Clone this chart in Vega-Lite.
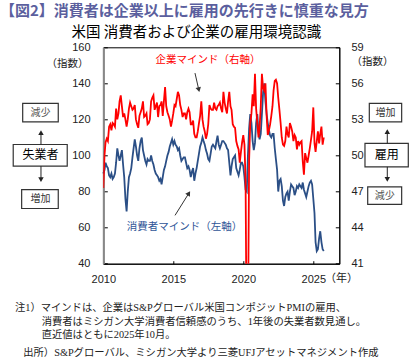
{
"$schema": "https://vega.github.io/schema/vega-lite/v6.json",
"width": 236, "height": 216.4,
"autosize": {"type": "none"},
"padding": {"left": 103.3, "top": 47.3, "right": 77.7, "bottom": 96.3},
"background": "white",
"config": {
  "view": {"stroke": "#000", "strokeWidth": 1},
  "axis": {"labelFont": "Liberation Sans", "labelFontSize": 11, "labelColor": "#222", "grid": false, "tickColor": "#000", "domainColor": "#000", "title": null, "labelOverlap": false},
  "text": {"font": "Noto Sans CJK JP"}
},
"layer": [
  {"data": {"values": [
{"date":"2010-01-01","consumer":90},{"date":"2010-02-01","consumer":92},{"date":"2010-03-01","consumer":96},{"date":"2010-04-01","consumer":94},{"date":"2010-05-01","consumer":93},{"date":"2010-06-01","consumer":89},{"date":"2010-07-01","consumer":88},{"date":"2010-08-01","consumer":90},{"date":"2010-09-01","consumer":87},{"date":"2010-10-01","consumer":88},{"date":"2010-11-01","consumer":90},{"date":"2010-12-01","consumer":96},
{"date":"2011-01-01","consumer":104},{"date":"2011-02-01","consumer":100},{"date":"2011-03-01","consumer":97},{"date":"2011-04-01","consumer":100},{"date":"2011-05-01","consumer":103},{"date":"2011-06-01","consumer":95},{"date":"2011-07-01","consumer":88},{"date":"2011-08-01","consumer":76},{"date":"2011-09-01","consumer":69},{"date":"2011-10-01","consumer":80},{"date":"2011-11-01","consumer":88},{"date":"2011-12-01","consumer":90},
{"date":"2012-01-01","consumer":93},{"date":"2012-02-01","consumer":99},{"date":"2012-03-01","consumer":104},{"date":"2012-04-01","consumer":109},{"date":"2012-05-01","consumer":105},{"date":"2012-06-01","consumer":100},{"date":"2012-07-01","consumer":97},{"date":"2012-08-01","consumer":104},{"date":"2012-09-01","consumer":108},{"date":"2012-10-01","consumer":110},{"date":"2012-11-01","consumer":103},{"date":"2012-12-01","consumer":100},
{"date":"2013-01-01","consumer":97},{"date":"2013-02-01","consumer":95},{"date":"2013-03-01","consumer":98},{"date":"2013-04-01","consumer":97},{"date":"2013-05-01","consumer":97},{"date":"2013-06-01","consumer":100},{"date":"2013-07-01","consumer":97},{"date":"2013-08-01","consumer":95},{"date":"2013-09-01","consumer":92},{"date":"2013-10-01","consumer":90},{"date":"2013-11-01","consumer":89},{"date":"2013-12-01","consumer":88},
{"date":"2014-01-01","consumer":86},{"date":"2014-02-01","consumer":87},{"date":"2014-03-01","consumer":84},{"date":"2014-04-01","consumer":88},{"date":"2014-05-01","consumer":92},{"date":"2014-06-01","consumer":94},{"date":"2014-07-01","consumer":97},{"date":"2014-08-01","consumer":100},{"date":"2014-09-01","consumer":102},{"date":"2014-10-01","consumer":105},{"date":"2014-11-01","consumer":107},{"date":"2014-12-01","consumer":109},
{"date":"2015-01-01","consumer":106},{"date":"2015-02-01","consumer":108},{"date":"2015-03-01","consumer":106},{"date":"2015-04-01","consumer":105},{"date":"2015-05-01","consumer":103},{"date":"2015-06-01","consumer":104},{"date":"2015-07-01","consumer":100},{"date":"2015-08-01","consumer":97},{"date":"2015-09-01","consumer":98},{"date":"2015-10-01","consumer":99},{"date":"2015-11-01","consumer":99},{"date":"2015-12-01","consumer":96},
{"date":"2016-01-01","consumer":93},{"date":"2016-02-01","consumer":94},{"date":"2016-03-01","consumer":92},{"date":"2016-04-01","consumer":88},{"date":"2016-05-01","consumer":91},{"date":"2016-06-01","consumer":93},{"date":"2016-07-01","consumer":86},{"date":"2016-08-01","consumer":90},{"date":"2016-09-01","consumer":93},{"date":"2016-10-01","consumer":97},{"date":"2016-11-01","consumer":101},{"date":"2016-12-01","consumer":105},
{"date":"2017-01-01","consumer":107},{"date":"2017-02-01","consumer":110},{"date":"2017-03-01","consumer":108},{"date":"2017-04-01","consumer":106},{"date":"2017-05-01","consumer":103},{"date":"2017-06-01","consumer":101},{"date":"2017-07-01","consumer":98},{"date":"2017-08-01","consumer":97},{"date":"2017-09-01","consumer":101},{"date":"2017-10-01","consumer":105},{"date":"2017-11-01","consumer":106},{"date":"2017-12-01","consumer":105},
{"date":"2018-01-01","consumer":104},{"date":"2018-02-01","consumer":108},{"date":"2018-03-01","consumer":111},{"date":"2018-04-01","consumer":106},{"date":"2018-05-01","consumer":104},{"date":"2018-06-01","consumer":106},{"date":"2018-07-01","consumer":108},{"date":"2018-08-01","consumer":108},{"date":"2018-09-01","consumer":107},{"date":"2018-10-01","consumer":106},{"date":"2018-11-01","consumer":104},{"date":"2018-12-01","consumer":103},
{"date":"2019-01-01","consumer":96},{"date":"2019-02-01","consumer":89},{"date":"2019-03-01","consumer":94},{"date":"2019-04-01","consumer":98},{"date":"2019-05-01","consumer":99},{"date":"2019-06-01","consumer":100},{"date":"2019-07-01","consumer":93},{"date":"2019-08-01","consumer":91},{"date":"2019-09-01","consumer":89},{"date":"2019-10-01","consumer":92},{"date":"2019-11-01","consumer":96},{"date":"2019-12-01","consumer":96},
{"date":"2020-01-01","consumer":94},{"date":"2020-02-01","consumer":88},{"date":"2020-03-01","consumer":81},{"date":"2020-04-01","consumer":80},{"date":"2020-05-01","consumer":100},{"date":"2020-06-01","consumer":115},{"date":"2020-07-01","consumer":123},{"date":"2020-08-01","consumer":118},{"date":"2020-09-01","consumer":108},{"date":"2020-10-01","consumer":103},{"date":"2020-11-01","consumer":107},{"date":"2020-12-01","consumer":118},
{"date":"2021-01-01","consumer":123},{"date":"2021-02-01","consumer":113},{"date":"2021-03-01","consumer":109},{"date":"2021-04-01","consumer":112},{"date":"2021-05-01","consumer":123},{"date":"2021-06-01","consumer":135},{"date":"2021-07-01","consumer":140},{"date":"2021-08-01","consumer":130},{"date":"2021-09-01","consumer":123},{"date":"2021-10-01","consumer":118},{"date":"2021-11-01","consumer":114},{"date":"2021-12-01","consumer":111},
{"date":"2022-01-01","consumer":110},{"date":"2022-02-01","consumer":112},{"date":"2022-03-01","consumer":112},{"date":"2022-04-01","consumer":104},{"date":"2022-05-01","consumer":98},{"date":"2022-06-01","consumer":92},{"date":"2022-07-01","consumer":80},{"date":"2022-08-01","consumer":86},{"date":"2022-09-01","consumer":87},{"date":"2022-10-01","consumer":83},{"date":"2022-11-01","consumer":75},{"date":"2022-12-01","consumer":72},
{"date":"2023-01-01","consumer":77},{"date":"2023-02-01","consumer":79},{"date":"2023-03-01","consumer":80},{"date":"2023-04-01","consumer":75},{"date":"2023-05-01","consumer":80},{"date":"2023-06-01","consumer":84},{"date":"2023-07-01","consumer":83},{"date":"2023-08-01","consumer":82},{"date":"2023-09-01","consumer":78},{"date":"2023-10-01","consumer":80},{"date":"2023-11-01","consumer":83},{"date":"2023-12-01","consumer":82},
{"date":"2024-01-01","consumer":84},{"date":"2024-02-01","consumer":83},{"date":"2024-03-01","consumer":82},{"date":"2024-04-01","consumer":85},{"date":"2024-05-01","consumer":81},{"date":"2024-06-01","consumer":79},{"date":"2024-07-01","consumer":77},{"date":"2024-08-01","consumer":80},{"date":"2024-09-01","consumer":83},{"date":"2024-10-01","consumer":85},{"date":"2024-11-01","consumer":86},{"date":"2024-12-01","consumer":84},
{"date":"2025-01-01","consumer":76},{"date":"2025-02-01","consumer":68},{"date":"2025-03-01","consumer":52},{"date":"2025-04-01","consumer":47},{"date":"2025-05-01","consumer":48},{"date":"2025-06-01","consumer":54},{"date":"2025-07-01","consumer":58},{"date":"2025-08-01","consumer":52},{"date":"2025-09-01","consumer":48},{"date":"2025-10-01","consumer":47}
  ]},
   "mark": {"type": "line", "color": "#2B4F86", "strokeWidth": 1.8},
   "encoding": {
     "x": {"field": "date", "type": "temporal",
       "scale": {"type": "utc", "domain": [{"year": 2010, "month": 1, "date": 1, "utc": true}, {"year": 2026, "month": 11, "date": 10, "utc": true}]},
       "axis": {"values": [{"year": 2010, "month": 1, "date": 1, "utc": true}, {"year": 2015, "month": 1, "date": 1, "utc": true}, {"year": 2020, "month": 1, "date": 1, "utc": true}, {"year": 2025, "month": 1, "date": 1, "utc": true}], "format": "%Y", "tickSize": -3, "labelPadding": 12.5, "labelFlush": false, "labelOverlap": false, "title": null}},
     "y": {"field": "consumer", "type": "quantitative",
       "scale": {"domain": [40, 160], "nice": false, "zero": false},
       "axis": {"orient": "left", "values": [40, 60, 80, 100, 120, 140, 160], "tickSize": -4, "labelPadding": 17.3, "labelOverlap": false, "domainColor": "#888", "domainWidth": 2, "title": null}}
   }},
 {"layer": [
  {"data": {"values": [{}]}, "mark": {"type": "text", "text": "【図2】消費者は企業以上に雇用の先行きに慎重な見方", "align": "left", "baseline": "middle", "fontSize": 15, "fontWeight": "bold", "color": "#5B5F9E", "clip": false},
   "encoding": {"x": {"datum": {"year": 2002, "month": 8, "date": 15, "utc": true}}, "y": {"datum": 179.9, "scale": {"domain": [40, 160], "nice": false, "zero": false}, "axis": null}}},
  {"data": {"values": [{}]}, "mark": {"type": "text", "text": "米国 消費者および企業の雇用環境認識", "align": "center", "baseline": "middle", "fontSize": 14.5, "color": "#000", "clip": false},
   "encoding": {"x": {"datum": {"year": 2016, "month": 8, "date": 28, "utc": true}}, "y": {"datum": 167.7, "axis": null}}},
  {"data": {"values": [{}]}, "mark": {"type": "text", "text": "（指数）", "align": "center", "baseline": "middle", "fontSize": 10.5, "color": "#222", "clip": false},
   "encoding": {"x": {"datum": {"year": 2007, "month": 6, "date": 11, "utc": true}}, "y": {"datum": 150.6, "axis": null}}},
  {"data": {"values": [{}]}, "mark": {"type": "text", "text": "（指数）", "align": "center", "baseline": "middle", "fontSize": 10.5, "color": "#222", "clip": false},
   "encoding": {"x": {"datum": {"year": 2029, "month": 3, "date": 25, "utc": true}}, "y": {"datum": 151.6, "axis": null}}},
  {"data": {"values": [{}]}, "mark": {"type": "text", "text": "（年）", "align": "center", "baseline": "middle", "fontSize": 11, "color": "#222", "clip": false},
   "encoding": {"x": {"datum": {"year": 2027, "month": 1, "date": 8, "utc": true}}, "y": {"datum": 31.5, "axis": null}}},
  {"data": {"values": [{}]}, "mark": {"type": "text", "text": "企業マインド（右軸）", "align": "center", "baseline": "middle", "fontSize": 10.5, "color": "#FF0000", "clip": false},
   "encoding": {"x": {"datum": {"year": 2017, "month": 6, "date": 24, "utc": true}}, "y": {"datum": 153.2, "axis": null}}},
  {"data": {"values": [{}]}, "mark": {"type": "text", "text": "消費者マインド（左軸）", "align": "center", "baseline": "middle", "fontSize": 10.5, "color": "#2F5597", "clip": false},
   "encoding": {"x": {"datum": {"year": 2015, "month": 10, "date": 19, "utc": true}}, "y": {"datum": 60.4, "axis": null}}},
  {"data": {"values": [{}]}, "mark": {"type": "rule", "color": "#333", "strokeWidth": 1, "clip": false},
   "encoding": {"x": {"datum": {"year": 2016, "month": 7, "date": 20, "utc": true}}, "x2": {"datum": {"year": 2016, "month": 10, "date": 27, "utc": true}}, "y": {"datum": 145.7, "axis": null}, "y2": {"datum": 136.5}}},
  {"data": {"values": [{}]}, "mark": {"type": "point", "shape": "triangle-down", "filled": true, "size": 30, "angle": -13, "color": "#333", "opacity": 1, "clip": false},
   "encoding": {"x": {"datum": {"year": 2016, "month": 10, "date": 27, "utc": true}}, "y": {"datum": 136.5, "axis": null}}},
  {"data": {"values": [{}]}, "mark": {"type": "rule", "color": "#333", "strokeWidth": 1, "clip": false},
   "encoding": {"x": {"datum": {"year": 2015, "month": 2, "date": 15, "utc": true}}, "x2": {"datum": {"year": 2016, "month": 2, "date": 11, "utc": true}}, "y": {"datum": 66.8, "axis": null}, "y2": {"datum": 79.05}}},
  {"data": {"values": [{}]}, "mark": {"type": "point", "shape": "triangle-up", "filled": true, "size": 30, "angle": 32, "color": "#333", "opacity": 1, "clip": false},
   "encoding": {"x": {"datum": {"year": 2016, "month": 2, "date": 11, "utc": true}}, "y": {"datum": 79.05, "axis": null}}},
  {"data": {"values": [{}]}, "mark": {"type": "rect", "fill": "white", "stroke": "#333", "strokeWidth": 1.2, "clip": false},
   "encoding": {"x": {"datum": {"year": 2004, "month": 3, "date": 30, "utc": true}}, "x2": {"datum": {"year": 2006, "month": 10, "date": 14, "utc": true}}, "y": {"datum": 128.9, "axis": null}, "y2": {"datum": 118.7}}},
  {"data": {"values": [{}]}, "mark": {"type": "rect", "fill": "white", "stroke": "#333", "strokeWidth": 1.2, "clip": false},
   "encoding": {"x": {"datum": {"year": 2003, "month": 7, "date": 27, "utc": true}}, "x2": {"datum": {"year": 2007, "month": 6, "date": 5, "utc": true}}, "y": {"datum": 106.1, "axis": null}, "y2": {"datum": 94.1}}},
  {"data": {"values": [{}]}, "mark": {"type": "rect", "fill": "white", "stroke": "#333", "strokeWidth": 1.2, "clip": false},
   "encoding": {"x": {"datum": {"year": 2004, "month": 3, "date": 3, "utc": true}}, "x2": {"datum": {"year": 2006, "month": 10, "date": 14, "utc": true}}, "y": {"datum": 81.1, "axis": null}, "y2": {"datum": 70.6}}},
  {"data": {"values": [{}]}, "mark": {"type": "rect", "fill": "white", "stroke": "#333", "strokeWidth": 1.2, "clip": false},
   "encoding": {"x": {"datum": {"year": 2029, "month": 1, "date": 1, "utc": true}}, "x2": {"datum": {"year": 2031, "month": 4, "date": 25, "utc": true}}, "y": {"datum": 128.9, "axis": null}, "y2": {"datum": 118.7}}},
  {"data": {"values": [{}]}, "mark": {"type": "rect", "fill": "white", "stroke": "#333", "strokeWidth": 1.2, "clip": false},
   "encoding": {"x": {"datum": {"year": 2028, "month": 9, "date": 10, "utc": true}}, "x2": {"datum": {"year": 2031, "month": 10, "date": 15, "utc": true}}, "y": {"datum": 106.7, "axis": null}, "y2": {"datum": 93.7}}},
  {"data": {"values": [{}]}, "mark": {"type": "rect", "fill": "white", "stroke": "#333", "strokeWidth": 1.2, "clip": false},
   "encoding": {"x": {"datum": {"year": 2028, "month": 11, "date": 20, "utc": true}}, "x2": {"datum": {"year": 2031, "month": 4, "date": 25, "utc": true}}, "y": {"datum": 82.6, "axis": null}, "y2": {"datum": 72.9}}},
  {"data": {"values": [{}]}, "mark": {"type": "text", "text": "減少", "align": "center", "baseline": "middle", "fontSize": 10, "color": "#555", "clip": false},
   "encoding": {"x": {"datum": {"year": 2005, "month": 7, "date": 6, "utc": true}}, "y": {"datum": 123.8, "axis": null}}},
  {"data": {"values": [{}]}, "mark": {"type": "text", "text": "失業者", "align": "center", "baseline": "middle", "fontSize": 12, "color": "#000", "clip": false},
   "encoding": {"x": {"datum": {"year": 2005, "month": 7, "date": 6, "utc": true}}, "y": {"datum": 100.2, "axis": null}}},
  {"data": {"values": [{}]}, "mark": {"type": "text", "text": "増加", "align": "center", "baseline": "middle", "fontSize": 10, "color": "#333", "clip": false},
   "encoding": {"x": {"datum": {"year": 2005, "month": 7, "date": 6, "utc": true}}, "y": {"datum": 75.7, "axis": null}}},
  {"data": {"values": [{}]}, "mark": {"type": "text", "text": "増加", "align": "center", "baseline": "middle", "fontSize": 10, "color": "#333", "clip": false},
   "encoding": {"x": {"datum": {"year": 2030, "month": 2, "date": 27, "utc": true}}, "y": {"datum": 123.8, "axis": null}}},
  {"data": {"values": [{}]}, "mark": {"type": "text", "text": "雇用", "align": "center", "baseline": "middle", "fontSize": 12, "color": "#000", "clip": false},
   "encoding": {"x": {"datum": {"year": 2030, "month": 3, "date": 30, "utc": true}}, "y": {"datum": 100.2, "axis": null}}},
  {"data": {"values": [{}]}, "mark": {"type": "text", "text": "減少", "align": "center", "baseline": "middle", "fontSize": 10, "color": "#555", "clip": false},
   "encoding": {"x": {"datum": {"year": 2030, "month": 2, "date": 6, "utc": true}}, "y": {"datum": 77.8, "axis": null}}},
  {"data": {"values": [{}]}, "mark": {"type": "rule", "color": "#222", "strokeWidth": 1, "clip": false},
   "encoding": {"x": {"datum": {"year": 2005, "month": 7, "date": 20, "utc": true}}, "y": {"datum": 106.1, "axis": null}, "y2": {"datum": 112.2}}},
  {"data": {"values": [{}]}, "mark": {"type": "point", "shape": "triangle-up", "filled": true, "size": 30, "color": "#222", "opacity": 1, "clip": false},
   "encoding": {"x": {"datum": {"year": 2005, "month": 7, "date": 20, "utc": true}}, "y": {"datum": 112.7, "axis": null}}},
  {"data": {"values": [{}]}, "mark": {"type": "rule", "color": "#222", "strokeWidth": 1, "clip": false},
   "encoding": {"x": {"datum": {"year": 2005, "month": 7, "date": 20, "utc": true}}, "y": {"datum": 94.1, "axis": null}, "y2": {"datum": 87.4}}},
  {"data": {"values": [{}]}, "mark": {"type": "point", "shape": "triangle-down", "filled": true, "size": 30, "color": "#222", "opacity": 1, "clip": false},
   "encoding": {"x": {"datum": {"year": 2005, "month": 7, "date": 20, "utc": true}}, "y": {"datum": 86.6, "axis": null}}},
  {"data": {"values": [{}]}, "mark": {"type": "rule", "color": "#222", "strokeWidth": 1, "clip": false},
   "encoding": {"x": {"datum": {"year": 2030, "month": 4, "date": 15, "utc": true}}, "y": {"datum": 106.7, "axis": null}, "y2": {"datum": 113.0}}},
  {"data": {"values": [{}]}, "mark": {"type": "point", "shape": "triangle-up", "filled": true, "size": 30, "color": "#222", "opacity": 1, "clip": false},
   "encoding": {"x": {"datum": {"year": 2030, "month": 4, "date": 15, "utc": true}}, "y": {"datum": 113.2, "axis": null}}},
  {"data": {"values": [{}]}, "mark": {"type": "rule", "color": "#222", "strokeWidth": 1, "clip": false},
   "encoding": {"x": {"datum": {"year": 2030, "month": 4, "date": 15, "utc": true}}, "y": {"datum": 93.7, "axis": null}, "y2": {"datum": 87.4}}},
  {"data": {"values": [{}]}, "mark": {"type": "point", "shape": "triangle-down", "filled": true, "size": 30, "color": "#222", "opacity": 1, "clip": false},
   "encoding": {"x": {"datum": {"year": 2030, "month": 4, "date": 15, "utc": true}}, "y": {"datum": 86.8, "axis": null}}},
  {"data": {"values": [{}]}, "mark": {"type": "text", "text": "注1）マインドは、企業はS&Pグローバル米国コンポジットPMIの雇用、", "align": "left", "baseline": "middle", "fontSize": 10.3, "font": "Liberation Serif, Noto Sans CJK JP", "color": "#222", "clip": false},
   "encoding": {"x": {"datum": {"year": 2003, "month": 9, "date": 10, "utc": true}}, "y": {"datum": 15.7, "axis": null}}},
  {"data": {"values": [{}]}, "mark": {"type": "text", "text": "消費者はミシガン大学消費者信頼感のうち、1年後の失業者数見通し。", "align": "left", "baseline": "middle", "fontSize": 10.3, "font": "Liberation Serif, Noto Sans CJK JP", "color": "#222", "clip": false},
   "encoding": {"x": {"datum": {"year": 2005, "month": 8, "date": 8, "utc": true}}, "y": {"datum": 7.9, "axis": null}}},
  {"data": {"values": [{}]}, "mark": {"type": "text", "text": "直近値はともに2025年10月。", "align": "left", "baseline": "middle", "fontSize": 10.3, "font": "Liberation Serif, Noto Sans CJK JP", "color": "#222", "clip": false},
   "encoding": {"x": {"datum": {"year": 2005, "month": 8, "date": 8, "utc": true}}, "y": {"datum": 0.7, "axis": null}}},
  {"data": {"values": [{}]}, "mark": {"type": "text", "text": "出所）S&Pグローバル、ミシガン大学より三菱UFJアセットマネジメント作成", "align": "left", "baseline": "middle", "fontSize": 10.3, "font": "Liberation Serif, Noto Sans CJK JP", "color": "#222", "clip": false},
   "encoding": {"x": {"datum": {"year": 2004, "month": 4, "date": 14, "utc": true}}, "y": {"datum": -9.3, "axis": null}}}
 ]},
  {"data": {"values": [
{"date":"2010-01-01","business":47.3},{"date":"2010-02-01","business":50.0},{"date":"2010-03-01","business":51.1},{"date":"2010-04-01","business":51.4},{"date":"2010-05-01","business":51.2},{"date":"2010-06-01","business":52.4},{"date":"2010-07-01","business":52.6},{"date":"2010-08-01","business":52.1},{"date":"2010-09-01","business":52.7},{"date":"2010-10-01","business":52.6},{"date":"2010-11-01","business":52.4},{"date":"2010-12-01","business":53.9},
{"date":"2011-01-01","business":53.0},{"date":"2011-02-01","business":53.5},{"date":"2011-03-01","business":54.5},{"date":"2011-04-01","business":55.0},{"date":"2011-05-01","business":54.1},{"date":"2011-06-01","business":53.2},{"date":"2011-07-01","business":53.5},{"date":"2011-08-01","business":53.0},{"date":"2011-09-01","business":52.4},{"date":"2011-10-01","business":53.0},{"date":"2011-11-01","business":53.9},{"date":"2011-12-01","business":54.4},
{"date":"2012-01-01","business":54.1},{"date":"2012-02-01","business":53.8},{"date":"2012-03-01","business":53.9},{"date":"2012-04-01","business":54.2},{"date":"2012-05-01","business":53.0},{"date":"2012-06-01","business":52.6},{"date":"2012-07-01","business":52.3},{"date":"2012-08-01","business":53.3},{"date":"2012-09-01","business":53.6},{"date":"2012-10-01","business":53.9},{"date":"2012-11-01","business":54.5},{"date":"2012-12-01","business":53.2},
{"date":"2013-01-01","business":53.3},{"date":"2013-02-01","business":53.5},{"date":"2013-03-01","business":52.6},{"date":"2013-04-01","business":52.7},{"date":"2013-05-01","business":53.0},{"date":"2013-06-01","business":54.5},{"date":"2013-07-01","business":54.8},{"date":"2013-08-01","business":55.0},{"date":"2013-09-01","business":53.8},{"date":"2013-10-01","business":54.1},{"date":"2013-11-01","business":54.4},{"date":"2013-12-01","business":53.2},
{"date":"2014-01-01","business":54.1},{"date":"2014-02-01","business":54.2},{"date":"2014-03-01","business":54.5},{"date":"2014-04-01","business":53.3},{"date":"2014-05-01","business":54.5},{"date":"2014-06-01","business":55.7},{"date":"2014-07-01","business":54.1},{"date":"2014-08-01","business":53.6},{"date":"2014-09-01","business":53.3},{"date":"2014-10-01","business":53.0},{"date":"2014-11-01","business":52.4},{"date":"2014-12-01","business":52.9},
{"date":"2015-01-01","business":53.5},{"date":"2015-02-01","business":54.2},{"date":"2015-03-01","business":54.1},{"date":"2015-04-01","business":54.7},{"date":"2015-05-01","business":55.3},{"date":"2015-06-01","business":55.0},{"date":"2015-07-01","business":54.2},{"date":"2015-08-01","business":53.8},{"date":"2015-09-01","business":53.2},{"date":"2015-10-01","business":53.5},{"date":"2015-11-01","business":53.5},{"date":"2015-12-01","business":53.0},
{"date":"2016-01-01","business":53.6},{"date":"2016-02-01","business":53.9},{"date":"2016-03-01","business":53.6},{"date":"2016-04-01","business":52.6},{"date":"2016-05-01","business":52.6},{"date":"2016-06-01","business":52.9},{"date":"2016-07-01","business":51.8},{"date":"2016-08-01","business":51.5},{"date":"2016-09-01","business":51.5},{"date":"2016-10-01","business":52.0},{"date":"2016-11-01","business":52.7},{"date":"2016-12-01","business":53.3},
{"date":"2017-01-01","business":54.5},{"date":"2017-02-01","business":53.0},{"date":"2017-03-01","business":52.4},{"date":"2017-04-01","business":52.0},{"date":"2017-05-01","business":51.4},{"date":"2017-06-01","business":51.8},{"date":"2017-07-01","business":52.6},{"date":"2017-08-01","business":54.2},{"date":"2017-09-01","business":53.9},{"date":"2017-10-01","business":53.8},{"date":"2017-11-01","business":53.8},{"date":"2017-12-01","business":54.4},
{"date":"2018-01-01","business":53.9},{"date":"2018-02-01","business":53.8},{"date":"2018-03-01","business":54.1},{"date":"2018-04-01","business":54.2},{"date":"2018-05-01","business":54.4},{"date":"2018-06-01","business":53.9},{"date":"2018-07-01","business":53.6},{"date":"2018-08-01","business":55.3},{"date":"2018-09-01","business":54.4},{"date":"2018-10-01","business":53.9},{"date":"2018-11-01","business":53.5},{"date":"2018-12-01","business":54.5},
{"date":"2019-01-01","business":55.3},{"date":"2019-02-01","business":54.1},{"date":"2019-03-01","business":53.8},{"date":"2019-04-01","business":52.6},{"date":"2019-05-01","business":52.4},{"date":"2019-06-01","business":52.3},{"date":"2019-07-01","business":51.2},{"date":"2019-08-01","business":50.8},{"date":"2019-09-01","business":50.5},{"date":"2019-10-01","business":49.4},{"date":"2019-11-01","business":50.3},{"date":"2019-12-01","business":51.1},
{"date":"2020-01-01","business":51.7},{"date":"2020-02-01","business":50.9},{"date":"2020-03-01","business":47.9},{"date":"2020-04-01","business":33.0},{"date":"2020-05-01","business":35.0},{"date":"2020-06-01","business":49.6},{"date":"2020-07-01","business":52.7},{"date":"2020-08-01","business":53.5},{"date":"2020-09-01","business":55.1},{"date":"2020-10-01","business":54.1},{"date":"2020-11-01","business":56.8},{"date":"2020-12-01","business":53.9},
{"date":"2021-01-01","business":52.7},{"date":"2021-02-01","business":51.5},{"date":"2021-03-01","business":52.3},{"date":"2021-04-01","business":54.1},{"date":"2021-05-01","business":56.8},{"date":"2021-06-01","business":55.6},{"date":"2021-07-01","business":55.4},{"date":"2021-08-01","business":56.0},{"date":"2021-09-01","business":53.3},{"date":"2021-10-01","business":51.7},{"date":"2021-11-01","business":52.1},{"date":"2021-12-01","business":52.6},
{"date":"2022-01-01","business":53.3},{"date":"2022-02-01","business":54.1},{"date":"2022-03-01","business":55.4},{"date":"2022-04-01","business":56.2},{"date":"2022-05-01","business":56.3},{"date":"2022-06-01","business":56.0},{"date":"2022-07-01","business":54.8},{"date":"2022-08-01","business":53.8},{"date":"2022-09-01","business":52.7},{"date":"2022-10-01","business":51.5},{"date":"2022-11-01","business":50.9},{"date":"2022-12-01","business":50.8},
{"date":"2023-01-01","business":51.2},{"date":"2023-02-01","business":52.4},{"date":"2023-03-01","business":51.8},{"date":"2023-04-01","business":51.5},{"date":"2023-05-01","business":52.7},{"date":"2023-06-01","business":52.4},{"date":"2023-07-01","business":52.0},{"date":"2023-08-01","business":51.2},{"date":"2023-09-01","business":51.7},{"date":"2023-10-01","business":51.5},{"date":"2023-11-01","business":50.5},{"date":"2023-12-01","business":51.2},
{"date":"2024-01-01","business":50.9},{"date":"2024-02-01","business":51.1},{"date":"2024-03-01","business":51.2},{"date":"2024-04-01","business":49.5},{"date":"2024-05-01","business":48.4},{"date":"2024-06-01","business":50.2},{"date":"2024-07-01","business":49.8},{"date":"2024-08-01","business":49.4},{"date":"2024-09-01","business":50.0},{"date":"2024-10-01","business":50.6},{"date":"2024-11-01","business":51.3},{"date":"2024-12-01","business":52.0},
{"date":"2025-01-01","business":54.0},{"date":"2025-02-01","business":51.0},{"date":"2025-03-01","business":50.3},{"date":"2025-04-01","business":51.2},{"date":"2025-05-01","business":52.0},{"date":"2025-06-01","business":51.0},{"date":"2025-07-01","business":51.8},{"date":"2025-08-01","business":52.4},{"date":"2025-09-01","business":50.9},{"date":"2025-10-01","business":51.5}
  ]},
   "mark": {"type": "line", "color": "#FF0000", "strokeWidth": 1.8, "clip": true},
   "encoding": {
     "x": {"field": "date", "type": "temporal",
       "scale": {"type": "utc", "domain": [{"year": 2010, "month": 1, "date": 1, "utc": true}, {"year": 2026, "month": 11, "date": 10, "utc": true}]},
       "axis": {"values": [{"year": 2010, "month": 1, "date": 1, "utc": true}, {"year": 2015, "month": 1, "date": 1, "utc": true}, {"year": 2020, "month": 1, "date": 1, "utc": true}, {"year": 2025, "month": 1, "date": 1, "utc": true}], "format": "%Y", "tickSize": -3, "labelPadding": 12.5, "labelFlush": false, "labelOverlap": false, "title": null}},
     "y": {"field": "business", "type": "quantitative",
       "scale": {"domain": [41, 59], "nice": false, "zero": false},
       "axis": {"orient": "right", "values": [41, 44, 47, 50, 53, 56, 59], "tickSize": -4, "labelPadding": 15.7, "labelOverlap": false, "title": null}}
   }}
],
"resolve": {"scale": {"y": "independent"}}
}
